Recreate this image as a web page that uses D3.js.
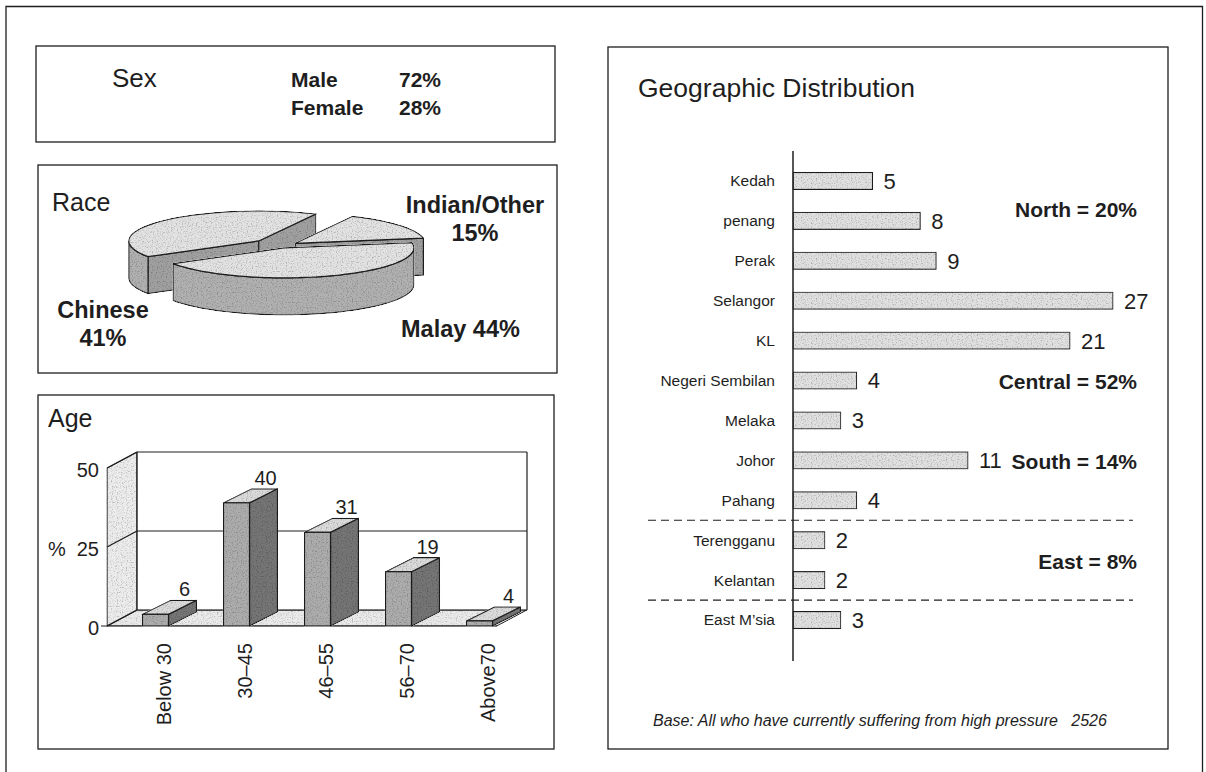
<!DOCTYPE html>
<html>
<head>
<meta charset="utf-8">
<script src="https://cdn.jsdelivr.net/npm/d3@7"></script>
<style>
body { margin: 0; background: #fff; }
svg { display: block; font-family: "Liberation Sans", Arial, sans-serif; }
</style>
</head>
<body>
<svg id="chart" width="1206" height="772"></svg>
<script>
// data
const sexLabels = ["Male", "Female"];
const sexValues = [72, 28];

const raceLabels = ["Indian/Other", "Malay", "Chinese"];
const raceValues = [15, 44, 41];

const ageLabels = ["Below 30", "30–45", "46–55", "56–70", "Above70"];
const ageValues = [6, 40, 31, 19, 4];
const ageTicks = [0, 25, 50];

const states = ["Kedah", "penang", "Perak", "Selangor", "KL", "Negeri Sembilan",
    "Melaka", "Johor", "Pahang", "Terengganu", "Kelantan", "East M’sia"];
const stateValues = [5, 8, 9, 27, 21, 4, 3, 11, 4, 2, 2, 3];
const regionLabels = ["North = 20%", "Central = 52%", "South = 14%", "East = 8%"];

const svg = d3.select("#chart");
const ink = "#1e1e1e";

// grainy print look for the grey fills
const flt = svg.append("defs").append("filter").attr("id", "grain")
    .attr("filterUnits", "userSpaceOnUse")
    .attr("x", -200).attr("y", -1000).attr("width", 1600).attr("height", 2000);
flt.append("feTurbulence").attr("type", "fractalNoise").attr("baseFrequency", 0.8)
    .attr("numOctaves", 1).attr("seed", 4).attr("result", "noise");
flt.append("feColorMatrix").attr("in", "noise").attr("type", "matrix")
    .attr("values", "1.6 0 0 0 0.2  1.6 0 0 0 0.2  1.6 0 0 0 0.2  0 0 0 0 1")
    .attr("result", "mult");
flt.append("feBlend").attr("in", "SourceGraphic").attr("in2", "mult").attr("mode", "multiply").attr("result", "mix");
flt.append("feComposite").attr("in", "mix").attr("in2", "SourceGraphic").attr("operator", "in");

function box(x, y, w, h) {
    svg.append("rect")
        .attr("x", x).attr("y", y).attr("width", w).attr("height", h)
        .attr("fill", "none").attr("stroke", ink).attr("stroke-width", 1.3);
}

// outer frame (no bottom edge, page continues)
svg.append("path")
    .attr("d", "M6,772 V6.5 H1202.5 V772")
    .attr("fill", "none").attr("stroke", ink).attr("stroke-width", 1.3);

// ---------- Sex ----------
box(36, 46, 519, 96);
svg.append("text").attr("x", 112).attr("y", 87)
    .attr("font-size", 26).attr("fill", ink).text("Sex");
sexLabels.forEach((s, i) => {
    let y = 87 + i * 28;
    svg.append("text").attr("x", 291).attr("y", y)
        .attr("font-size", 21).attr("font-weight", "bold").attr("fill", ink).text(s);
    svg.append("text").attr("x", 399).attr("y", y)
        .attr("font-size", 21).attr("font-weight", "bold").attr("fill", ink).text(sexValues[i] + "%");
});

// ---------- Race (3d pie) ----------
box(38, 165, 519, 208);
svg.append("text").attr("x", 52).attr("y", 211)
    .attr("font-size", 25).attr("fill", ink).text("Race");

const pieC = { x: 281, y: 246 };
const rx = 130, ry = 30, depth = 37;
const explode = [18, 8, 30];
const a0 = 26 * Math.PI / 180;
const pie = d3.pie().sort(null).startAngle(a0).endAngle(a0 + 2 * Math.PI);
const slices = pie(raceValues).map((d, i) => {
    let t0 = d.startAngle - Math.PI / 2, t1 = d.endAngle - Math.PI / 2;
    let mid = (t0 + t1) / 2;
    let c = { x: pieC.x + explode[i] * Math.cos(mid), y: pieC.y + explode[i] * Math.sin(mid) * 0.25 };
    return { t0, t1, mid, c, i };
});

function pt(c, t, dz) {
    return [c.x + rx * Math.cos(t), c.y + ry * Math.sin(t) + (dz || 0)];
}
function arcPts(c, t0, t1, dz) {
    let n = Math.max(2, Math.ceil(Math.abs(t1 - t0) / 0.04));
    return d3.range(n + 1).map(k => pt(c, t0 + (t1 - t0) * k / n, dz));
}
const line = d3.line();

const pieG = svg.append("g");
slices.slice().sort((a, b) => Math.sin(a.mid) - Math.sin(b.mid)).forEach(s => {
    let c = s.c;
    let g = pieG.append("g").attr("filter", "url(#grain)");
    // cut faces that look at the viewer
    [[s.t0, Math.cos(s.t0) < 0], [s.t1, Math.cos(s.t1) > 0]].forEach(([t, vis]) => {
        if (!vis) return;
        let e = pt(c, t);
        g.append("path")
            .attr("d", line([[c.x, c.y], e, [e[0], e[1] + depth], [c.x, c.y + depth]]) + "Z")
            .attr("fill", "#a0a0a0").attr("stroke", ink).attr("stroke-width", 1.2);
    });
    // outer wall, front half only
    [0, 2 * Math.PI, -2 * Math.PI].forEach(off => {
        let lo = Math.max(s.t0, off), hi = Math.min(s.t1, off + Math.PI);
        if (hi <= lo) return;
        let top = arcPts(c, lo, hi, 0);
        let bot = arcPts(c, hi, lo, depth);
        g.append("path")
            .attr("d", line(top.concat(bot)) + "Z")
            .attr("fill", "#b0b0b0").attr("stroke", ink).attr("stroke-width", 1.2);
    });
    // top face
    g.append("path")
        .attr("d", line([[c.x, c.y]].concat(arcPts(c, s.t0, s.t1, 0))) + "Z")
        .attr("fill", "#e2e2e2").attr("stroke", ink).attr("stroke-width", 1.2);
});

const pieText = [
    { x: 475, y: 213, a: "middle", t: raceLabels[0] },
    { x: 475, y: 241, a: "middle", t: raceValues[0] + "%" },
    { x: 401, y: 337, a: "start", t: "Malay " + raceValues[1] + "%" },
    { x: 103, y: 318, a: "middle", t: raceLabels[2] },
    { x: 103, y: 346, a: "middle", t: raceValues[2] + "%" }
];
svg.selectAll(".pieLab").data(pieText).enter().append("text")
    .attr("x", d => d.x).attr("y", d => d.y).attr("text-anchor", d => d.a)
    .attr("font-size", 23.5).attr("font-weight", "bold").attr("fill", ink).text(d => d.t);

// ---------- Age (3d bars) ----------
box(38, 395, 516, 354);
svg.append("text").attr("x", 48).attr("y", 427)
    .attr("font-size", 25).attr("fill", ink).text("Age");

const back = { x0: 137, x1: 527 };
const dep = { dx: -30, dy: 16 };
const yBack = d3.scaleLinear().domain([0, 50]).range([610, 452]);
const yBar = d3.scaleLinear().domain([0, 50]).range([634, 470]);
const xBand = d3.scaleBand().domain(ageLabels).range([115, 520]);
const barW = 26;
const bd = { dx: 28, dy: -14 };
const floorY = yBack(0) + dep.dy;
const ageG = svg.append("g").attr("stroke", ink).attr("stroke-width", 1.2);

// left wall
ageG.append("path")
    .attr("d", line([[back.x0, yBack(50)], [back.x0, yBack(0)],
        [back.x0 + dep.dx, floorY], [back.x0 + dep.dx, yBack(50) + dep.dy]]) + "Z")
    .attr("fill", "#ececec").attr("filter", "url(#grain)");
// floor
ageG.append("path")
    .attr("d", line([[back.x0, yBack(0)], [back.x1, yBack(0)],
        [back.x1 + dep.dx, floorY], [back.x0 + dep.dx, floorY]]) + "Z")
    .attr("fill", "#eaeaea").attr("filter", "url(#grain)");
// back wall grid
ageTicks.forEach(v => {
    ageG.append("line").attr("x1", back.x0).attr("x2", back.x1)
        .attr("y1", yBack(v)).attr("y2", yBack(v));
    ageG.append("line").attr("x1", back.x0).attr("x2", back.x0 + dep.dx)
        .attr("y1", yBack(v)).attr("y2", yBack(v) + dep.dy);
});
ageG.append("line").attr("x1", back.x1).attr("x2", back.x1)
    .attr("y1", yBack(50)).attr("y2", yBack(0));
ageG.append("line").attr("x1", back.x0).attr("x2", back.x0)
    .attr("y1", yBack(50)).attr("y2", yBack(0));
ageG.append("line").attr("x1", back.x0 + dep.dx - 6).attr("x2", back.x1 + dep.dx)
    .attr("y1", floorY).attr("y2", floorY);

ageTicks.forEach(v => {
    svg.append("text").attr("x", 99).attr("y", yBack(v) + dep.dy + 9)
        .attr("text-anchor", "end").attr("font-size", 20).attr("fill", ink).text(v);
});
svg.append("text").attr("x", 48).attr("y", yBack(25) + dep.dy + 9)
    .attr("font-size", 20).attr("fill", ink).text("%");

ageLabels.forEach((lab, i) => {
    let v = ageValues[i];
    let x = xBand(lab) + xBand.bandwidth() / 2 - barW / 2;
    let top = yBar(v), bot = floorY;
    let g = ageG.append("g").attr("filter", "url(#grain)");
    g.append("path")
        .attr("d", line([[x + barW, top], [x + barW + bd.dx, top + bd.dy],
            [x + barW + bd.dx, bot + bd.dy], [x + barW, bot]]) + "Z")
        .attr("fill", "#747474");
    g.append("path")
        .attr("d", line([[x, top], [x + bd.dx, top + bd.dy],
            [x + barW + bd.dx, top + bd.dy], [x + barW, top]]) + "Z")
        .attr("fill", "#dadada");
    g.append("rect").attr("x", x).attr("y", top).attr("width", barW).attr("height", bot - top)
        .attr("fill", "#acacac");
    svg.append("text").attr("x", x + barW / 2 + 29).attr("y", top + bd.dy - 4)
        .attr("text-anchor", "middle").attr("font-size", 20).attr("fill", ink).text(v);
    svg.append("text")
        .attr("transform", `translate(${x + barW / 2 + 8},643) rotate(-90)`)
        .attr("dy", "0.35em").attr("text-anchor", "end")
        .attr("font-size", 20).attr("fill", ink).text(lab);
});

// ---------- Geographic Distribution ----------
box(608, 47, 560, 702);
svg.append("text").attr("x", 638).attr("y", 97)
    .attr("font-size", 26.5).attr("fill", ink).text("Geographic Distribution");

const axisX = 793;
const yRow = d3.scaleBand().domain(states).range([161, 640]);
// the long bars are squeezed in the source, so the scale bends above 11
const xGeo = d3.scaleLinear().domain([0, 11, 21, 27]).range([0, 175, 277, 320]);
const barH = 17;

const rows = svg.selectAll(".row").data(states).enter().append("g")
    .attr("transform", d => `translate(0,${yRow(d) + yRow.bandwidth() / 2})`);
rows.append("rect")
    .attr("x", axisX).attr("y", -barH / 2)
    .attr("width", (d, i) => xGeo(stateValues[i])).attr("height", barH)
    .attr("fill", "#e0e0e0").attr("stroke", ink).attr("stroke-width", 1.2)
    .attr("filter", "url(#grain)");
rows.append("text")
    .attr("x", 775).attr("dy", "0.35em").attr("text-anchor", "end")
    .attr("font-size", 15.5).attr("fill", ink).text(d => d);
rows.append("text")
    .attr("x", (d, i) => axisX + xGeo(stateValues[i]) + 11).attr("dy", "0.36em")
    .attr("font-size", 22).attr("fill", ink).text((d, i) => stateValues[i]);

svg.append("line").attr("x1", axisX).attr("x2", axisX).attr("y1", 151).attr("y2", 661)
    .attr("stroke", ink).attr("stroke-width", 1.5);

["Pahang", "Kelantan"].forEach(s => {
    let y = yRow(s) + yRow.step();
    svg.append("line").attr("x1", 648).attr("x2", 1133).attr("y1", y).attr("y2", y)
        .attr("stroke", ink).attr("stroke-width", 1.2).attr("stroke-dasharray", "8,5");
});

const regionY = [217, 389, 469, 569];
regionLabels.forEach((r, i) => {
    svg.append("text").attr("x", 1137).attr("y", regionY[i]).attr("text-anchor", "end")
        .attr("font-size", 21).attr("font-weight", "bold").attr("fill", ink).text(r);
});

svg.append("text").attr("x", 653).attr("y", 726)
    .attr("font-size", 16).attr("font-style", "italic").attr("fill", ink)
    .attr("xml:space", "preserve")
    .text("Base: All who have currently suffering from high pressure   2526");
</script>
</body>
</html>
